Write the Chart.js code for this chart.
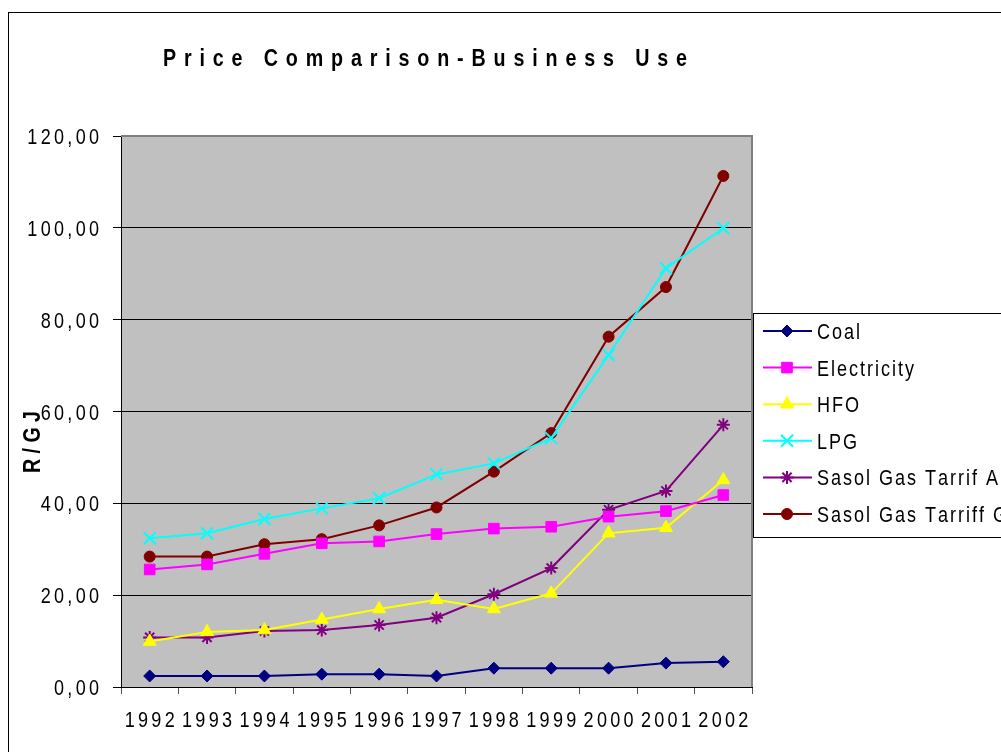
<!DOCTYPE html>
<html>
<head>
<meta charset="utf-8">
<script src="https://cdn.jsdelivr.net/npm/chart.js@4/dist/chart.umd.min.js"></script>
<style>
  html, body { margin: 0; padding: 0; background: #fff; }
  #chart { display: block; }
</style>
</head>
<body>
<canvas id="chart" width="1001" height="752"></canvas>
<script>
// --- DATA ---
const years = ['1992', '1993', '1994', '1995', '1996', '1997', '1998', '1999', '2000', '2001', '2002'];
const coal = [2.4, 2.4, 2.4, 2.8, 2.8, 2.4, 4.1, 4.1, 4.1, 5.2, 5.5];
const electricity = [25.6, 26.7, 29.0, 31.3, 31.7, 33.3, 34.5, 34.9, 37.1, 38.3, 41.8];
const hfo = [9.9, 12.0, 12.4, 14.7, 17.0, 19.0, 17.0, 20.4, 33.5, 34.7, 45.1];
const lpg = [32.4, 33.5, 36.6, 38.9, 41.1, 46.3, 48.7, 54.2, 72.3, 91.2, 99.9];
const sasolA = [10.8, 10.8, 12.2, 12.4, 13.5, 15.1, 20.2, 25.9, 38.6, 42.7, 57.1];
const sasolG = [28.4, 28.4, 31.1, 32.2, 35.2, 39.1, 46.9, 55.3, 76.3, 87.1, 111.3];
const yTicks = [0, 20, 40, 60, 80, 100, 120];

const FONT = '"Liberation Sans", Arial, sans-serif';
const SX = 0.82;   // horizontal squeeze, the original uses a narrow face

// width of a spaced, squeezed string
function spacedWidth(ctx, text, spacing) {
    let w = 0;
    for (const ch of text) w += ctx.measureText(ch).width * SX;
    return w + spacing * (text.length - 1);
}

// draws text one glyph at a time, squeezed and letter-spaced
function spacedText(ctx, text, x, y, align, spacing) {
    const w = spacedWidth(ctx, text, spacing);
    let cx = align === 'right' ? x - w : align === 'center' ? x - w / 2 : x;
    ctx.save();
    ctx.textAlign = 'left';
    ctx.textBaseline = 'alphabetic';
    for (const ch of text) {
        ctx.save();
        ctx.translate(cx, y);
        ctx.scale(SX, 1);
        ctx.fillText(ch, 0, 0);
        ctx.restore();
        cx += ctx.measureText(ch).width * SX + spacing;
    }
    ctx.restore();
}

// --- PLUGINS ---
const frame = {
    id: 'frame',
    beforeDraw(chart) {
        const { ctx, chartArea: a } = chart;
        ctx.save();
        ctx.fillStyle = '#fff';
        ctx.fillRect(0, 0, chart.width, chart.height);
        // outer chart border
        ctx.strokeStyle = '#000';
        ctx.lineWidth = 1;
        ctx.strokeRect(8.5, 12.5, chart.width + 20, chart.height + 20);
        // plot area
        ctx.fillStyle = '#c0c0c0';
        ctx.fillRect(a.left, a.top, a.right - a.left, a.bottom - a.top);
        ctx.restore();
    },
    afterDraw(chart) {
        const { ctx, chartArea: a } = chart;
        const xs = chart.scales.x, ys = chart.scales.y;
        ctx.save();
        // top & right edge of the plot area
        ctx.strokeStyle = '#808080';
        ctx.lineWidth = 2;
        ctx.beginPath();
        ctx.moveTo(a.left, a.top);
        ctx.lineTo(a.right, a.top);
        ctx.lineTo(a.right, a.bottom);
        ctx.stroke();

        ctx.fillStyle = '#000';

        // tick labels
        ctx.font = '22px ' + FONT;
        years.forEach((yr, i) => {
            spacedText(ctx, yr, xs.getPixelForValue(i), a.bottom + 40, 'center', 3.3);
        });
        yTicks.forEach(v => {
            const lbl = v.toFixed(2).replace('.', ',');
            spacedText(ctx, lbl, 99, ys.getPixelForValue(v) + 8, 'right', 3.3);
        });

        // title
        const title = 'Price Comparison-Business Use';
        ctx.font = 'bold 24px ' + FONT;
        const tw = spacedWidth(ctx, title, 0);
        spacedText(ctx, title, 163, 66, 'left', (524 - tw) / (title.length - 1));

        // y axis title
        ctx.save();
        ctx.translate(40, 442);
        ctx.rotate(-Math.PI / 2);
        ctx.font = 'bold 24px ' + FONT;
        const rw = spacedWidth(ctx, 'R/GJ', 0);
        spacedText(ctx, 'R/GJ', 0, 0, 'center', (62 - rw) / 3);
        ctx.restore();

        // legend
        ctx.fillStyle = '#fff';
        ctx.fillRect(753, 313, 260, 224);
        ctx.strokeStyle = '#000';
        ctx.lineWidth = 1;
        ctx.strokeRect(753.5, 313.5, 260, 224);
        ctx.font = '22px ' + FONT;
        const lw = spacedWidth(ctx, 'Sasol Gas Tarrif A', 0);
        const lsp = (181 - lw) / 17;
        chart.data.datasets.forEach((ds, i) => {
            const y = 331 + i * 36.6;
            ctx.strokeStyle = ds.borderColor;
            ctx.lineWidth = 2;
            ctx.beginPath();
            ctx.moveTo(763, y);
            ctx.lineTo(812, y);
            ctx.stroke();
            ctx.fillStyle = ds.pointBackgroundColor;
            ctx.strokeStyle = ds.pointBorderColor;
            ctx.lineWidth = ds.pointBorderWidth;
            Chart.helpers.drawPoint(ctx, {
                pointStyle: ds.pointStyle,
                radius: ds.pointRadius,
                rotation: 0,
                borderWidth: ds.pointBorderWidth
            }, 787, y);
            ctx.fillStyle = '#000';
            spacedText(ctx, ds.label, 817, y + 8, 'left', lsp);
        });
        ctx.restore();
    }
};

function series(label, data, color, style, radius, bw) {
    return {
        label, data,
        borderColor: color,
        backgroundColor: color,
        pointBackgroundColor: color,
        pointBorderColor: color,
        pointStyle: style,
        pointRadius: radius,
        pointHoverRadius: radius,
        pointBorderWidth: bw,
        borderWidth: 2,
        tension: 0
    };
}

new Chart(document.getElementById('chart'), {
    type: 'line',
    data: {
        labels: years,
        datasets: [
            series('Coal', coal, '#000080', 'rectRot', 6, 1),
            series('Electricity', electricity, '#ff00ff', 'rect', 7.5, 1),
            series('HFO', hfo, '#ffff00', 'triangle', 7.5, 1),
            series('LPG', lpg, '#00ffff', 'crossRot', 8.5, 2),
            series('Sasol Gas Tarrif A', sasolA, '#800080', 'star', 6.5, 2),
            series('Sasol Gas Tarriff G', sasolG, '#800000', 'circle', 5.5, 1)
        ]
    },
    options: {
        responsive: false,
        animation: false,
        events: [],
        layout: { padding: { left: 0, top: 136, right: 249, bottom: 0 } },
        plugins: {
            legend: { display: false },
            title: { display: false },
            tooltip: { enabled: false }
        },
        scales: {
            x: {
                offset: true,
                afterFit: s => { s.height = 65; },
                border: { color: '#000', width: 1 },
                grid: { offset: true, drawOnChartArea: false, drawTicks: true, tickLength: 7, color: '#555' },
                ticks: { autoSkip: false, maxRotation: 0, minRotation: 0, color: 'rgba(0,0,0,0)' }
            },
            y: {
                min: 0, max: 120,
                afterFit: s => { s.width = 121; },
                afterBuildTicks: s => { s.ticks = yTicks.map(v => ({ value: v })); },
                border: { color: '#000', width: 1 },
                grid: { color: '#000', lineWidth: 1, tickLength: 8, drawTicks: true },
                ticks: { color: 'rgba(0,0,0,0)' }
            }
        }
    },
    plugins: [frame]
});
</script>
</body>
</html>
